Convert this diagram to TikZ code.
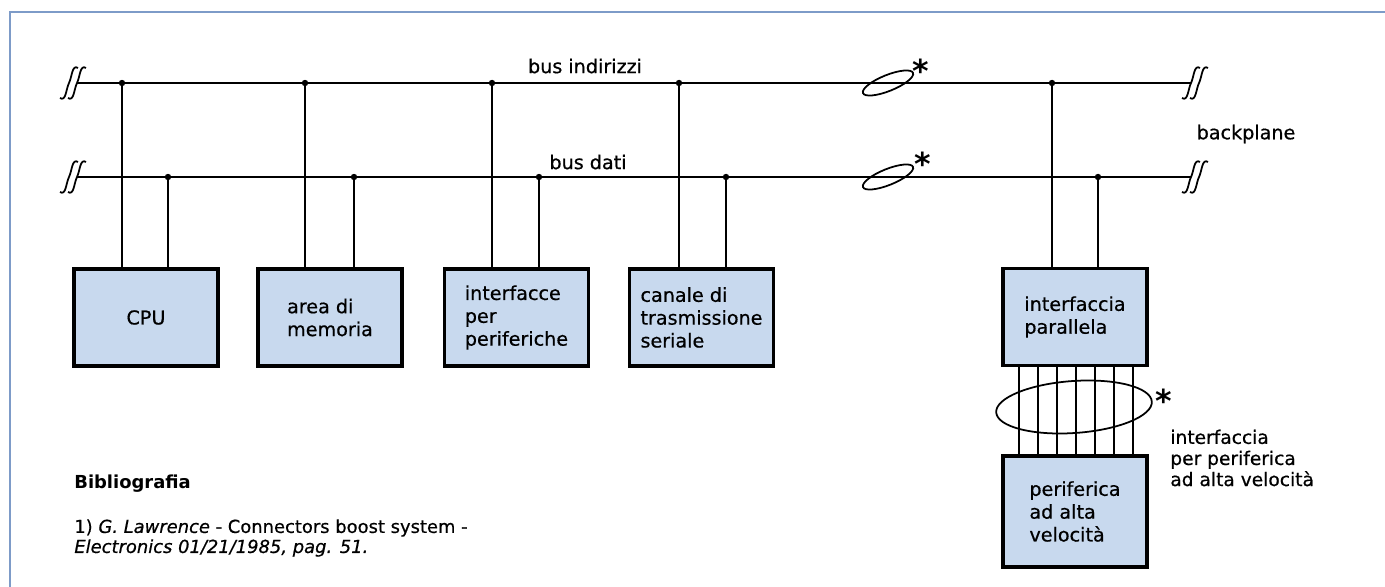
\documentclass[tikz,border=0pt]{standalone}
\usepackage{fontspec}
\setmainfont{DejaVu Sans}
\newfontfamily\semibold{DejaVu Sans}[FakeBold=0.6]
\definecolor{boxblue}{RGB}{200,217,238}
\definecolor{frameblue}{RGB}{125,155,200}

% break mark at the ends of the backplane
\tikzset{brk/.pic={
    \foreach \d in {-4,4}
      \draw[line width=1pt] (\d-9,15) .. controls (\d-3,19) and (\d-3,6) .. (\d,0)
        .. controls (\d+3,-6) and (\d+3,-19) .. (\d+9,-15);
}}

\begin{document}
\begin{tikzpicture}[x=0.02cm, y=-0.02cm,
    block/.style={rectangle, draw, line width=1.9pt, fill=boxblue, align=left, font=\semibold\fontsize{10.9}{13}\selectfont, minimum width=2.88cm, minimum height=1.94cm, inner sep=0pt},
    wire/.style={line width=1.25pt},
    ring/.style={line width=1pt},
    lbl/.style={font=\semibold\fontsize{10.9}{13}\selectfont, inner sep=0pt},
    star/.style={font=\fontsize{18}{18}\selectfont\bfseries, inner sep=0pt, anchor=base}
]
\useasboundingbox (0,0) rectangle (1385,587);

% Frame
\draw[frameblue, line width=1.2pt] (10,587) -- (10,12) -- (1385,12);

% Blocks
\node[block] (cpu) at (146,317.5) {CPU};
\node[block] (mem) at (330,317.5) {area di\\memoria};
\node[block] (intf) at (516.5,317.5) {interfacce\\per\\periferiche};
\node[block] (ser) at (701.5,317.5) {canale di\\trasmissione\\seriale};
\node[block] (par) at (1075,317) {interfaccia\\parallela};
\node[block, minimum height=2.22cm] (hsp) at (1075,511.5) {periferica\\ad alta\\velocità};

% Buses
\coordinate (al) at (77,83); \coordinate (ar) at (1191,83);
\coordinate (dl) at (77,177); \coordinate (dr) at (1191,177);
\draw[wire] (al) -- (ar);
\draw[wire] (dl) -- (dr);
\pic at (73,83) {brk}; \pic at (1195,83) {brk};
\pic at (73,177) {brk}; \pic at (1195,177) {brk};

\node[lbl] (busa) at (585,66) {bus indirizzi};
\node[lbl] (busd) at (588,162) {bus dati};
\node[lbl] (bkp) at (1246,134) {backplane};

% Taps
\foreach \n/\xa/\xd in {cpu/122/168, mem/305/354, intf/492/539, ser/679/726, par/1052/1098} {
  \coordinate (a-\n) at (\xa,83);
  \coordinate (d-\n) at (\xd,177);
  \draw[wire] (a-\n) -- (a-\n |- \n.north);
  \draw[wire] (d-\n) -- (d-\n |- \n.north);
  \fill (a-\n) circle [radius=3.2];
  \fill (d-\n) circle [radius=3.2];
}

% Cable marks
\draw[ring, rotate around={22:(888,83)}] (888,83) ellipse [x radius=27, y radius=8];
\draw[ring, rotate around={22:(888,177)}] (888,177) ellipse [x radius=27, y radius=8];
\node[star] (s1) at (921,83) {*};
\node[star] (s2) at (923,176) {*};

% Parallel link
\draw[ring, rotate around={4:(1074,407)}] (1074,407) ellipse [x radius=78, y radius=26];
\foreach \x in {1019,1038,1057,1076,1095,1114,1133}
  \draw[wire] (par.south -| \x,0) -- (hsp.north -| \x,0);
\node[star] (s3) at (1164,412) {*};
\node[lbl, anchor=west, align=left, font=\semibold\fontsize{10.6}{12}\selectfont] (hsl) at (1170,458) {interfaccia\\per periferica\\ad alta velocità};

% Bibliografia
\node[anchor=west, inner sep=0pt, font=\fontsize{10.2}{12}\selectfont\bfseries] (bib) at (74,484) {Bibliografia};
\node[anchor=west, inner sep=0pt, align=left, font=\semibold\fontsize{10.2}{11.4}\selectfont] (ref) at (74,538) {1) \textit{G. Lawrence} - Connectors boost system -\\\textit{Electronics 01/21/1985, pag. 51.}};

\end{tikzpicture}
\end{document}
